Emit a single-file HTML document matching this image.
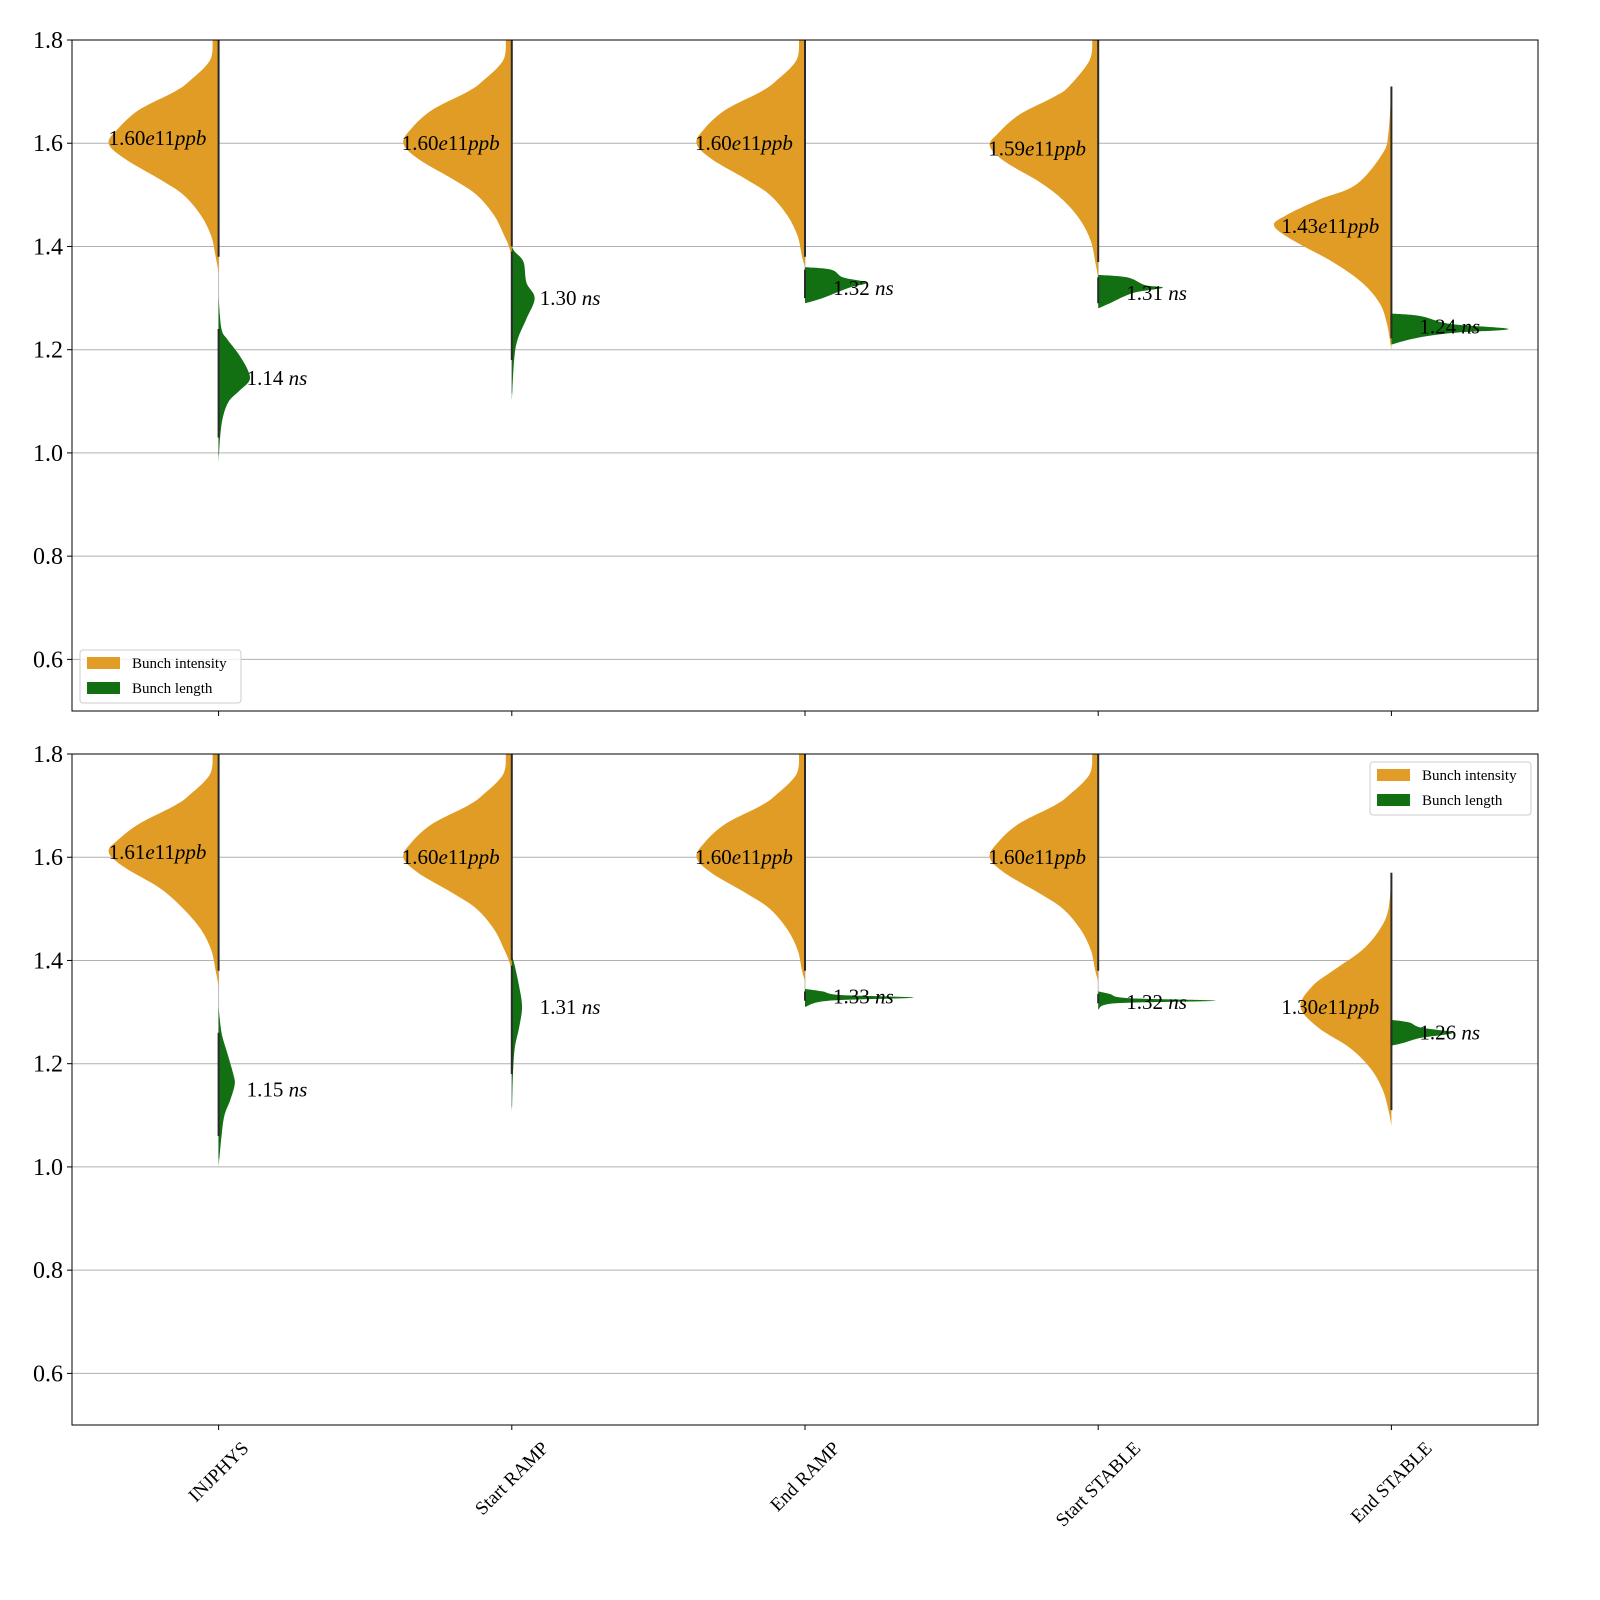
<!DOCTYPE html>
<html><head><meta charset="utf-8"><style>
body{margin:0;background:#fff}
svg{display:block;font-family:"Liberation Serif","DejaVu Serif",serif}
</style></head><body>
<svg id="c" width="1600" height="1600" viewBox="0 0 1600 1600"></svg>
<script>
const categories=["INJPHYS","Start RAMP","End RAMP","Start STABLE","End STABLE"];
const yTicks=[0.6,0.8,1.0,1.2,1.4,1.6,1.8];
// intensity profiles [value, density width] per panel per category
const topIntensity=[
[[1.80,.02],[1.76,.03],[1.72,.1],[1.70,.15],[1.665,.27],[1.63,.34],[1.60,.375],[1.57,.32],[1.53,.2],[1.50,.12],[1.46,.06],[1.42,.025],[1.38,.01],[1.35,0]],
[[1.80,.02],[1.76,.03],[1.72,.1],[1.70,.15],[1.665,.27],[1.63,.34],[1.60,.37],[1.57,.32],[1.53,.2],[1.50,.12],[1.46,.06],[1.42,.025],[1.40,.01],[1.38,0]],
[[1.80,.02],[1.76,.03],[1.72,.1],[1.70,.15],[1.665,.27],[1.63,.34],[1.60,.37],[1.57,.32],[1.53,.2],[1.50,.12],[1.46,.06],[1.42,.025],[1.38,.01],[1.36,0]],
[[1.80,.02],[1.76,.03],[1.71,.1],[1.69,.15],[1.655,.27],[1.62,.34],[1.595,.37],[1.565,.32],[1.525,.2],[1.49,.12],[1.45,.06],[1.41,.025],[1.37,.01],[1.34,0]],
[[1.71,0],[1.62,.01],[1.58,.03],[1.52,.12],[1.49,.25],[1.46,.36],[1.44,.4],[1.41,.33],[1.37,.2],[1.33,.1],[1.29,.04],[1.25,.015],[1.20,0]]];
const topLength=[
[[1.30,0],[1.24,.01],[1.22,.03],[1.19,.07],[1.16,.1],[1.14,.105],[1.12,.07],[1.10,.035],[1.07,.015],[1.03,.005],[0.98,0]],
[[1.40,0],[1.39,.01],[1.37,.04],[1.33,.05],[1.30,.078],[1.26,.05],[1.22,.02],[1.18,.008],[1.10,0]],
[[1.36,0],[1.355,.09],[1.34,.13],[1.33,.21],[1.32,.15],[1.30,.06],[1.29,0]],
[[1.345,0],[1.34,.1],[1.325,.16],[1.32,.22],[1.31,.12],[1.29,.04],[1.28,0]],
[[1.27,0],[1.265,.1],[1.25,.2],[1.24,.4],[1.232,.2],[1.222,.08],[1.21,0]]];
const botIntensity=[
[[1.80,.02],[1.76,.03],[1.72,.1],[1.70,.15],[1.665,.27],[1.635,.34],[1.61,.375],[1.58,.32],[1.54,.2],[1.50,.12],[1.46,.06],[1.42,.025],[1.38,.01],[1.35,0]],
[[1.80,.02],[1.76,.03],[1.72,.1],[1.70,.15],[1.665,.27],[1.63,.34],[1.60,.37],[1.57,.32],[1.53,.2],[1.50,.12],[1.46,.06],[1.42,.025],[1.40,.01],[1.38,0]],
[[1.80,.02],[1.76,.03],[1.72,.1],[1.70,.15],[1.665,.27],[1.63,.34],[1.60,.37],[1.57,.32],[1.53,.2],[1.50,.12],[1.46,.06],[1.42,.025],[1.38,.01],[1.36,0]],
[[1.80,.02],[1.76,.03],[1.72,.1],[1.70,.15],[1.665,.27],[1.63,.34],[1.60,.37],[1.57,.32],[1.53,.2],[1.50,.12],[1.46,.06],[1.42,.025],[1.38,.01],[1.36,0]],
[[1.57,0],[1.50,.01],[1.46,.04],[1.42,.1],[1.38,.2],[1.35,.27],[1.31,.31],[1.27,.25],[1.23,.14],[1.19,.07],[1.15,.03],[1.11,.01],[1.08,0]]];
const botLength=[
[[1.31,0],[1.26,.01],[1.22,.03],[1.18,.05],[1.16,.055],[1.13,.04],[1.10,.02],[1.06,.01],[1.0,0]],
[[1.41,0],[1.39,.01],[1.35,.025],[1.31,.035],[1.27,.025],[1.23,.01],[1.18,.004],[1.10,0]],
[[1.345,0],[1.34,.06],[1.333,.12],[1.328,.37],[1.322,.08],[1.31,0]],
[[1.34,0],[1.335,.04],[1.327,.1],[1.322,.4],[1.317,.06],[1.305,0]],
[[1.285,0],[1.28,.06],[1.27,.1],[1.26,.21],[1.25,.1],[1.24,.04],[1.235,0]]];
const topIntLabels=["1.60","1.60","1.60","1.59","1.43"];
const topIntLabelY=[1.61,1.60,1.60,1.59,1.44];
const topLenLabels=["1.14","1.30","1.32","1.31","1.24"];
const topLenLabelY=[1.145,1.30,1.32,1.31,1.245];
const botIntLabels=["1.61","1.60","1.60","1.60","1.30"];
const botIntLabelY=[1.61,1.60,1.60,1.60,1.31];
const botLenLabels=["1.15","1.31","1.33","1.32","1.26"];
const botLenLabelY=[1.15,1.31,1.33,1.32,1.26];

const NS="http://www.w3.org/2000/svg";
const svg=document.getElementById('c');
function mk(t,a,p){const e=document.createElementNS(NS,t);for(const k in a)e.setAttribute(k,a[k]);(p||svg).appendChild(e);return e;}
const X0=72,X1=1538,CW=(X1-X0)/5;
const xs=i=>X0+(i+0.5)*CW;
function smooth(pts){ // catmull-rom through pts
 let d='';
 for(let k=0;k<pts.length-1;k++){
  const p0=pts[Math.max(k-1,0)],p1=pts[k],p2=pts[k+1],p3=pts[Math.min(k+2,pts.length-1)];
  const c1=[p1[0]+(p2[0]-p0[0])/6,p1[1]+(p2[1]-p0[1])/6];
  const c2=[p2[0]-(p3[0]-p1[0])/6,p2[1]-(p3[1]-p1[1])/6];
  d+=' C'+c1[0]+','+c1[1]+' '+c2[0]+','+c2[1]+' '+p2[0]+','+p2[1];
 }
 return d;
}
const panels=[{top:40,bot:711,I:topIntensity,L:topLength,il:topIntLabels,iy:topIntLabelY,ll:topLenLabels,ly:topLenLabelY,name:'top',legend:'left'},
{top:754,bot:1425,I:botIntensity,L:botLength,il:botIntLabels,iy:botIntLabelY,ll:botLenLabels,ly:botLenLabelY,name:'bottom',legend:'right'}];
panels.forEach(P=>{
 const ys=v=>P.bot-(v-0.5)/1.3*(P.bot-P.top);
 const g=mk('g',{});
 
 
 const cp=mk('clipPath',{id:'cp'+P.name},g);mk('rect',{x:X0,y:P.top,width:X1-X0,height:P.bot-P.top},cp);
 yTicks.forEach(t=>{
  const y=ys(t);
  const l=mk('line',{x1:X0,x2:X1,y1:y,y2:y,stroke:'#b0b0b0','stroke-width':1},g);
  
  mk('line',{x1:X0-5,x2:X0,y1:y,y2:y,stroke:'#000'},g);
  const tx=mk('text',{x:X0-9,y:y+8,'text-anchor':'end','font-size':24},g);tx.textContent=t.toFixed(1);
  
 });
 const vg=mk('g',{'clip-path':'url(#cp'+P.name+')'},g);
 categories.forEach((c,i)=>{
  const cx=xs(i);
  const I=P.I[i],L=P.L[i];
  const vmax=I[0][0],vmin=L[L.length-1][0];
  mk('line',{x1:cx,x2:cx,y1:ys(vmax),y2:ys(vmin)-8,stroke:'#bbb','stroke-width':1},vg);
  const ip=I.map(p=>[cx-p[1]*CW,ys(p[0])]);
  let d='M'+cx+','+ip[0][1]+' L'+ip[0][0]+','+ip[0][1]+smooth(ip)+' L'+cx+','+ip[ip.length-1][1]+'Z';
  const pi=mk('path',{d:d,fill:'#e09c24'},vg);
  
  const lp=L.map(p=>[cx+p[1]*CW,ys(p[0])]);
  let d2='M'+cx+','+lp[0][1]+' L'+lp[0][0]+','+lp[0][1]+smooth(lp)+' L'+cx+','+lp[lp.length-1][1]+'Z';
  const pl=mk('path',{d:d2,fill:'#127012'},vg);
  
  mk('line',{x1:cx,x2:cx,y1:ys(I[0][0]),y2:ys(I[I.length-2][0]),stroke:'#2a2a2a','stroke-width':2},vg);
  mk('line',{x1:cx,x2:cx,y1:ys(L[1][0]),y2:ys(L[L.length-2][0]),stroke:'#2a2a2a','stroke-width':2},vg);
  const t1=mk('text',{x:cx-110,y:ys(P.iy[i])+7,'font-size':21},g);
  t1.innerHTML=P.il[i]+'<tspan font-style="italic">e</tspan>11<tspan font-style="italic">ppb</tspan>';
  
  const t2=mk('text',{x:cx+28,y:ys(P.ly[i])+7,'font-size':21},g);
  t2.innerHTML=P.ll[i]+' <tspan font-style="italic">ns</tspan>';
  
  mk('line',{x1:cx,x2:cx,y1:P.bot,y2:P.bot+5,stroke:'#000'},g);
 });
 mk('rect',{x:X0,y:P.top,width:X1-X0,height:P.bot-P.top,fill:'none',stroke:'#000','stroke-width':1},g);
 const lx=P.legend==='left'?80:1370, ly=P.legend==='left'?650:762;
 const lg=mk('g',{},g);
 
 mk('rect',{x:lx,y:ly,width:161,height:53,rx:3,fill:'#fff','fill-opacity':0.8,stroke:'#ccc'},lg);
 [['Bunch intensity','#e09c24'],['Bunch length','#127012']].forEach((e,k)=>{
  const eg=mk('g',{},lg);
  
  mk('rect',{x:lx+7,y:ly+7+k*25,width:33,height:12,fill:e[1]},eg);
  const t=mk('text',{x:lx+52,y:ly+18+k*25,'font-size':15},eg);t.textContent=e[0];
 });
});
categories.forEach((c,i)=>{
 const cx=xs(i);
 const t=mk('text',{'font-size':19,'text-anchor':'middle'});
 t.textContent=c;
 
 
 const w=t.getComputedTextLength();
 const cy=1438+(w*0.707+14)/2;
 t.setAttribute('transform','translate('+cx+','+cy+') rotate(-45)');
 t.setAttribute('y',6);
});
</script>
</body></html>
